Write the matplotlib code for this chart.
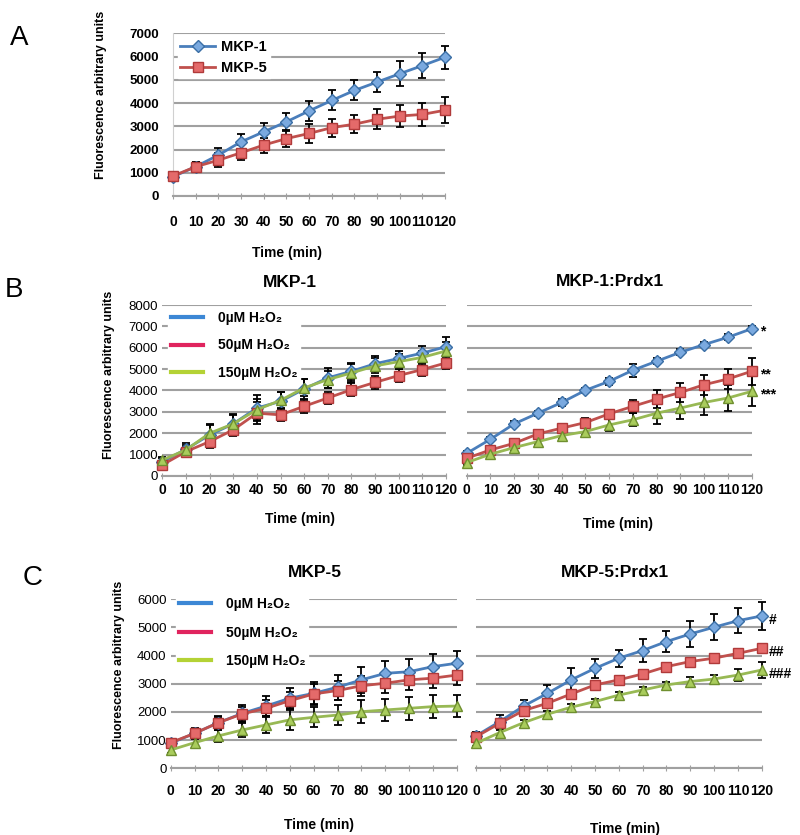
import numpy as np
import matplotlib.pyplot as plt

plt.rcParams['font.family'] = ['Liberation Sans', 'DejaVu Sans']

time = [0, 10, 20, 30, 40, 50, 60, 70, 80, 90, 100, 110, 120]

# panel A
a_mkp1 = [830, 1260, 1760, 2330, 2760, 3190, 3660, 4110, 4540, 4900, 5260, 5610, 5970]
a_mkp1_err = [150, 200, 320, 350, 390, 390, 430, 430, 430, 430, 530, 530, 500]
a_mkp5 = [860, 1260, 1540, 1860, 2190, 2470, 2690, 2940, 3090, 3300, 3440, 3510, 3690]
a_mkp5_err = [150, 200, 290, 320, 320, 360, 390, 390, 390, 430, 460, 500, 550]

# panel B, MKP-1
b1_0 = [670, 1250, 1920, 2440, 3180, 3490, 4070, 4590, 4900, 5250, 5500, 5750, 6050]
b1_0_err = [150, 300, 450, 450, 600, 450, 450, 450, 400, 350, 350, 350, 450]
b1_50 = [520, 1140, 1610, 2160, 2940, 2860, 3260, 3650, 4040, 4380, 4700, 4980, 5290]
b1_50_err = [150, 200, 300, 300, 500, 300, 300, 300, 300, 300, 300, 300, 300]
b1_150 = [750, 1220, 2000, 2440, 3100, 3540, 4120, 4510, 4820, 5150, 5350, 5550, 5850]
b1_150_err = [150, 250, 450, 400, 500, 400, 400, 400, 400, 350, 350, 300, 400]

# panel B, MKP-1:Prdx1
b2_0 = [1060, 1720, 2440, 2940, 3440, 4010, 4430, 4950, 5370, 5790, 6150, 6490, 6890]
b2_0_err = [100, 120, 120, 120, 150, 120, 150, 300, 150, 150, 120, 150, 120]
b2_50 = [830, 1220, 1530, 1970, 2240, 2500, 2910, 3260, 3600, 3910, 4270, 4540, 4900]
b2_50_err = [100, 100, 100, 150, 150, 200, 200, 300, 400, 440, 470, 450, 640]
b2_150 = [630, 1020, 1330, 1610, 1890, 2080, 2390, 2630, 2940, 3180, 3440, 3650, 3960]
b2_150_err = [100, 100, 100, 100, 150, 150, 300, 300, 500, 500, 580, 630, 700]

# panel C, MKP-5
c1_0 = [890, 1240, 1620, 1950, 2210, 2490, 2660, 2880, 3140, 3370, 3430, 3610, 3730]
c1_0_err = [150, 200, 250, 300, 350, 350, 400, 450, 450, 450, 450, 450, 450]
c1_50 = [910, 1240, 1620, 1930, 2130, 2400, 2640, 2760, 2930, 3020, 3140, 3200, 3310]
c1_50_err = [100, 150, 200, 250, 300, 300, 350, 350, 350, 350, 350, 350, 350]
c1_150 = [650, 910, 1150, 1360, 1540, 1720, 1810, 1890, 2010, 2070, 2130, 2190, 2210]
c1_150_err = [100, 150, 200, 250, 300, 350, 350, 350, 400, 400, 400, 400, 400]

# panel C, MKP-5:Prdx1
c2_0 = [1150, 1660, 2210, 2660, 3140, 3550, 3910, 4180, 4500, 4770, 5010, 5240, 5410]
c2_0_err = [150, 250, 200, 300, 420, 330, 300, 400, 380, 450, 470, 450, 500]
c2_50 = [1120, 1600, 2050, 2310, 2640, 2960, 3140, 3350, 3610, 3790, 3910, 4080, 4260]
c2_50_err = [100, 100, 100, 100, 100, 100, 100, 100, 100, 100, 100, 100, 100]
c2_150 = [890, 1270, 1620, 1920, 2170, 2370, 2600, 2780, 2960, 3080, 3170, 3310, 3490]
c2_150_err = [100, 100, 100, 100, 100, 100, 100, 100, 100, 150, 150, 200, 280]

conc_labels = ['0µM H₂O₂', '50µM H₂O₂', '150µM H₂O₂']

blue = dict(color='#4a7ebb', marker='D', mfc='#7aa9df', mec='#3a6ea5', ms=6.5)
red = dict(color='#c0504d', marker='s', mfc='#e46a6a', mec='#b03a3a', ms=7.5)
green = dict(color='#98b954', marker='^', mfc='#a9cc5c', mec='#6f8f2f', ms=7.5)
leg_cols = ['#3c87d5', '#e0245e', '#b4d235']

fig = plt.figure(figsize=(8, 8.35), dpi=100)
W, H = 800, 835


def make_ax(x0, x1, ytop, ybot):
    return fig.add_axes([x0 / W, 1 - ybot / H, (x1 - x0) / W, (ybot - ytop) / H])


def style(ax, ymax, xpad, ypad, ybold):
    ax.set_xlim(0, 120)
    ax.set_ylim(0, ymax)
    ax.set_xticks(time)
    ax.set_yticks(range(0, ymax + 1, 1000))
    for s in ['top', 'right', 'left']:
        ax.spines[s].set_visible(False)
    ax.spines['bottom'].set_color('#a0a0a0')
    ax.spines['bottom'].set_linewidth(1.5)
    ax.grid(axis='y', color='#a0a0a0', lw=1.5)
    ax.set_axisbelow(True)
    ax.tick_params(axis='x', direction='inout', length=4, color='#a0a0a0', pad=xpad)
    ax.tick_params(axis='y', length=0, pad=ypad)
    for t in ax.get_xticklabels():
        t.set_fontweight('bold')
        t.set_fontsize(10)
    for t in ax.get_yticklabels():
        t.set_fontweight('bold' if ybold else 'normal')
        t.set_fontsize(9.5)


def series(ax, y, err, st):
    ax.errorbar(time, y, yerr=err, ecolor='black', elinewidth=1.3, capsize=3,
                capthick=1.3, lw=2, zorder=3, clip_on=False, **st)


# ---- panel A ----
axA = make_ax(173, 445, 33.3, 196)
style(axA, 7000, 12, 10, True)
axA.spines['left'].set_visible(True)
axA.spines['left'].set_color('#d0d0d0')
series(axA, a_mkp1, a_mkp1_err, blue)
series(axA, a_mkp5, a_mkp5_err, red)
hA = [plt.Line2D([], [], lw=2, **blue), plt.Line2D([], [], lw=2, **red)]
legA = axA.legend(hA, ['MKP-1', 'MKP-5'], loc='upper left', bbox_to_anchor=(-0.01, 1.02),
                  frameon=True, framealpha=1, edgecolor='white', fancybox=False,
                  prop=dict(weight='bold', size=10.5), handlelength=2.4, handletextpad=0.4,
                  labelspacing=0.45, borderpad=0.2)
axA.set_xlabel('Time (min)', fontsize=10, fontweight='bold')
axA.xaxis.set_label_coords(0.42, -0.31)
axA.set_ylabel('Fluorescence arbitrary units', fontsize=9, fontweight='bold')
axA.yaxis.set_label_coords(-0.243, 0.62)
fig.text(10 / W, 1 - 38 / H, 'A', fontsize=20, va='center')


def three_panel(ax, ys, errs):
    for y, e, st in zip(ys, errs, [blue, red, green]):
        series(ax, y, e, st)


def cond_legend(ax, anchor_y, spacing):
    hs = [plt.Line2D([], [], color=c, lw=3) for c in leg_cols]
    ax.legend(hs, conc_labels, loc='upper left', bbox_to_anchor=(-0.005, anchor_y),
              frameon=True, framealpha=1, edgecolor='white', fancybox=False,
              prop=dict(weight='bold', size=10), handlelength=2.3, handletextpad=1.1,
              labelspacing=spacing, borderpad=0.2)


# ---- panel B ----
axB1 = make_ax(162.3, 446, 305, 476)
axB2 = make_ax(466.7, 751.7, 305, 476)
for ax in (axB1, axB2):
    style(ax, 8000, 3, 3, False)
three_panel(axB1, [b1_0, b1_50, b1_150], [b1_0_err, b1_50_err, b1_150_err])
three_panel(axB2, [b2_0, b2_50, b2_150], [b2_0_err, b2_50_err, b2_150_err])
axB2.set_yticklabels([])
cond_legend(axB1, 1.02, 0.95)
axB1.text(0.45, 1.13, 'MKP-1', transform=axB1.transAxes, ha='center', va='center',
          fontsize=12.5, fontweight='bold')
axB2.text(0.503, 1.135, 'MKP-1:Prdx1', transform=axB2.transAxes, ha='center', va='center',
          fontsize=12.5, fontweight='bold')
axB1.set_xlabel('Time (min)', fontsize=10, fontweight='bold')
axB1.xaxis.set_label_coords(0.485, -0.21)
axB2.set_xlabel('Time (min)', fontsize=10, fontweight='bold')
axB2.xaxis.set_label_coords(0.53, -0.24)
axB1.set_ylabel('Fluorescence arbitrary units', fontsize=9, fontweight='bold')
axB1.yaxis.set_label_coords(-0.167, 0.59)
for y, s in zip([b2_0[-1], b2_50[-1], b2_150[-1]], ['*', '**', '***']):
    axB2.annotate(s, (120, y), xytext=(6, -2), textcoords='offset points',
                  fontsize=10, fontweight='bold', va='center', annotation_clip=False)
fig.text(5 / W, 1 - 290 / H, 'B', fontsize=20, va='center')

# ---- panel C ----
axC1 = make_ax(170.7, 456.7, 599.3, 768.3)
axC2 = make_ax(476, 761.7, 599.3, 768.3)
for ax in (axC1, axC2):
    style(ax, 6000, 9, 3, False)
three_panel(axC1, [c1_0, c1_50, c1_150], [c1_0_err, c1_50_err, c1_150_err])
three_panel(axC2, [c2_0, c2_50, c2_150], [c2_0_err, c2_50_err, c2_150_err])
axC2.set_yticklabels([])
cond_legend(axC1, 1.07, 1.05)
axC1.text(0.505, 1.16, 'MKP-5', transform=axC1.transAxes, ha='center', va='center',
          fontsize=12.5, fontweight='bold')
axC2.text(0.486, 1.16, 'MKP-5:Prdx1', transform=axC2.transAxes, ha='center', va='center',
          fontsize=12.5, fontweight='bold')
axC1.set_xlabel('Time (min)', fontsize=10, fontweight='bold')
axC1.xaxis.set_label_coords(0.52, -0.294)
axC2.set_xlabel('Time (min)', fontsize=10, fontweight='bold')
axC2.xaxis.set_label_coords(0.52, -0.318)
axC1.set_ylabel('Fluorescence arbitrary units', fontsize=9, fontweight='bold')
axC1.yaxis.set_label_coords(-0.16, 0.61)
for y, s in zip([c2_0[-1], c2_50[-1], c2_150[-1]], ['#', '##', '###']):
    axC2.annotate(s, (120, y), xytext=(5, -3), textcoords='offset points',
                  fontsize=10, fontweight='bold', va='center', annotation_clip=False)
fig.text(23 / W, 1 - 578 / H, 'C', fontsize=20, va='center')

fig.savefig('out.png', dpi=100)
